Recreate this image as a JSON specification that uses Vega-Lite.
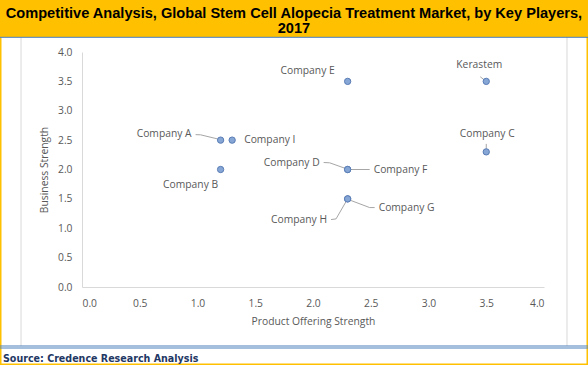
{
  "$schema": "https://vega.github.io/schema/vega-lite/v6.json",
  "width": 462,
  "height": 235,
  "autosize": {"type": "none"},
  "padding": {"left": 82, "top": 52, "right": 44, "bottom": 78},
  "background": "#FFFFFF",
  "config": {
    "view": {"stroke": null},
    "axis": {
      "labelFont": "Open Sans", "labelFontSize": 10.3, "labelColor": "#595959",
      "titleFont": "Open Sans", "titleFontSize": 10.3, "titleFontWeight": "normal", "titleColor": "#595959",
      "ticks": false, "domainColor": "#D9D9D9", "gridColor": "#D9D9D9", "domainWidth": 1, "gridWidth": 1,
      "labelOverlap": false
    },
    "axisX": {"labelPadding": 11, "titlePadding": 8},
    "axisY": {"labelPadding": 10, "titlePadding": 8},
    "text": {"font": "Open Sans", "fontSize": 10.3, "color": "#595959"}
  },
  "datasets": {
    "players": [
      {"company": "Company A", "product_offering_strength": 1.2, "business_strength": 2.5},
      {"company": "Company I", "product_offering_strength": 1.3, "business_strength": 2.5},
      {"company": "Company B", "product_offering_strength": 1.2, "business_strength": 2.0},
      {"company": "Company E", "product_offering_strength": 2.3, "business_strength": 3.5},
      {"company": "Kerastem", "product_offering_strength": 3.5, "business_strength": 3.5},
      {"company": "Company C", "product_offering_strength": 3.5, "business_strength": 2.3},
      {"company": "Company D", "product_offering_strength": 2.3, "business_strength": 2.0},
      {"company": "Company F", "product_offering_strength": 2.3, "business_strength": 2.0},
      {"company": "Company G", "product_offering_strength": 2.3, "business_strength": 1.5},
      {"company": "Company H", "product_offering_strength": 2.3, "business_strength": 1.5}
    ],
    "frame": [{}]
  },
  "data": {"name": "players"},
  "layer": [
    {
      "data": {"name": "frame"},
      "mark": {"type": "rect", "fill": "#FFC000"},
      "encoding": {
        "x": {"datum": -0.72, "title": "Product Offering Strength", "axis": {"values": [0, 0.5, 1, 1.5, 2, 2.5, 3, 3.5, 4], "format": ".1f"}},
        "x2": {"datum": 4.39},
        "y": {"datum": 4.255, "title": "Business Strength", "axis": {"values": [0, 0.5, 1, 1.5, 2, 2.5, 3, 3.5, 4], "format": ".1f"}},
        "y2": {"datum": 5.0}}
    },
    {
      "data": {"name": "frame"},
      "mark": {"type": "rect", "fill": null, "filled": false, "stroke": "#FFC000", "strokeWidth": 3},
      "encoding": {
        "x": {"datum": -0.71, "title": "Product Offering Strength", "axis": {"values": [0, 0.5, 1, 1.5, 2, 2.5, 3, 3.5, 4], "format": ".1f"}},
        "x2": {"datum": 4.381},
        "y": {"datum": 4.885, "title": "Business Strength", "axis": {"values": [0, 0.5, 1, 1.5, 2, 2.5, 3, 3.5, 4], "format": ".1f"}},
        "y2": {"datum": -1.328}}
    },
    {
      "data": {"name": "frame"},
      "mark": {"type": "rule", "color": "#D9D9D9", "strokeWidth": 1},
      "encoding": {
        "x": {"datum": -0.528, "title": "Product Offering Strength", "axis": {"values": [0, 0.5, 1, 1.5, 2, 2.5, 3, 3.5, 4], "format": ".1f"}},
        "y": {"datum": 4.255, "title": "Business Strength", "axis": {"values": [0, 0.5, 1, 1.5, 2, 2.5, 3, 3.5, 4], "format": ".1f"}},
        "y2": {"datum": -1.004}}
    },
    {
      "data": {"name": "frame"},
      "mark": {"type": "rule", "color": "#D9D9D9", "strokeWidth": 1},
      "encoding": {
        "x": {"datum": 4.199, "title": "Product Offering Strength", "axis": {"values": [0, 0.5, 1, 1.5, 2, 2.5, 3, 3.5, 4], "format": ".1f"}},
        "y": {"datum": 4.255, "title": "Business Strength", "axis": {"values": [0, 0.5, 1, 1.5, 2, 2.5, 3, 3.5, 4], "format": ".1f"}},
        "y2": {"datum": -1.004}}
    },
    {
      "data": {"name": "frame"},
      "mark": {"type": "rule", "color": "#4A7EBB", "strokeWidth": 1},
      "encoding": {
        "y": {"datum": 4.25, "title": "Business Strength", "axis": {"values": [0, 0.5, 1, 1.5, 2, 2.5, 3, 3.5, 4], "format": ".1f"}},
        "x": {"datum": -0.71, "title": "Product Offering Strength", "axis": {"values": [0, 0.5, 1, 1.5, 2, 2.5, 3, 3.5, 4], "format": ".1f"}},
        "x2": {"datum": 4.381}}
    },
    {
      "data": {"name": "frame"},
      "mark": {"type": "rule", "color": "#4A7EBB", "strokeWidth": 1.2},
      "encoding": {
        "y": {"datum": -1.004, "title": "Business Strength", "axis": {"values": [0, 0.5, 1, 1.5, 2, 2.5, 3, 3.5, 4], "format": ".1f"}},
        "x": {"datum": -0.71, "title": "Product Offering Strength", "axis": {"values": [0, 0.5, 1, 1.5, 2, 2.5, 3, 3.5, 4], "format": ".1f"}},
        "x2": {"datum": 4.381}}
    },
    {
      "data": {"name": "frame"},
      "mark": {"type": "rule", "color": "#4A7EBB", "strokeWidth": 1.2},
      "encoding": {
        "y": {"datum": -1.038, "title": "Business Strength", "axis": {"values": [0, 0.5, 1, 1.5, 2, 2.5, 3, 3.5, 4], "format": ".1f"}},
        "x": {"datum": -0.71, "title": "Product Offering Strength", "axis": {"values": [0, 0.5, 1, 1.5, 2, 2.5, 3, 3.5, 4], "format": ".1f"}},
        "x2": {"datum": 4.381}}
    },
    {
      "data": {"name": "frame"},
      "mark": {"type": "text", "font": "Liberation Sans", "fontSize": 14.6, "fontWeight": "bold", "color": "#000000",
               "align": "center", "baseline": "middle",
               "text": "Competitive Analysis, Global Stem Cell Alopecia Treatment Market, by Key Players,"},
      "encoding": {
        "x": {"datum": 1.835, "title": "Product Offering Strength", "axis": {"values": [0, 0.5, 1, 1.5, 2, 2.5, 3, 3.5, 4], "format": ".1f"}},
        "y": {"datum": 4.655, "title": "Business Strength", "axis": {"values": [0, 0.5, 1, 1.5, 2, 2.5, 3, 3.5, 4], "format": ".1f"}}}
    },
    {
      "data": {"name": "frame"},
      "mark": {"type": "text", "font": "Liberation Sans", "fontSize": 14.6, "fontWeight": "bold", "color": "#000000",
               "align": "center", "baseline": "middle", "text": "2017"},
      "encoding": {
        "x": {"datum": 1.835, "title": "Product Offering Strength", "axis": {"values": [0, 0.5, 1, 1.5, 2, 2.5, 3, 3.5, 4], "format": ".1f"}},
        "y": {"datum": 4.383, "title": "Business Strength", "axis": {"values": [0, 0.5, 1, 1.5, 2, 2.5, 3, 3.5, 4], "format": ".1f"}}}
    },
    {
      "data": {"name": "frame"},
      "mark": {"type": "text", "font": "DejaVu Sans Condensed", "fontSize": 10.6, "fontWeight": "bold", "color": "#1F3864",
               "align": "left", "baseline": "middle", "text": "Source: Credence Research Analysis"},
      "encoding": {
        "x": {"datum": -0.684, "title": "Product Offering Strength", "axis": {"values": [0, 0.5, 1, 1.5, 2, 2.5, 3, 3.5, 4], "format": ".1f"}},
        "y": {"datum": -1.225, "title": "Business Strength", "axis": {"values": [0, 0.5, 1, 1.5, 2, 2.5, 3, 3.5, 4], "format": ".1f"}}}
    },
    {
      "encoding": {
        "x": {"field": "product_offering_strength", "type": "quantitative", "title": "Product Offering Strength",
              "scale": {"domain": [0, 4], "nice": false, "zero": false},
              "axis": {"values": [0, 0.5, 1, 1.5, 2, 2.5, 3, 3.5, 4], "format": ".1f"}},
        "y": {"field": "business_strength", "type": "quantitative", "title": "Business Strength",
              "scale": {"domain": [0, 4], "nice": false, "zero": false},
              "axis": {"values": [0, 0.5, 1, 1.5, 2, 2.5, 3, 3.5, 4], "format": ".1f"}}
      },
      "layer": [
        {
          "transform": [{"filter": "datum.company === 'Company A'"}],
          "mark": {"type": "rule", "color": "#A6A6A6", "xOffset": -25, "yOffset": -5.5, "x2Offset": -20, "y2Offset": -5.3},
          "encoding": {"x2": {"field": "product_offering_strength"}, "y2": {"field": "business_strength"}}
        },
        {
          "transform": [{"filter": "datum.company === 'Company A'"}],
          "mark": {"type": "rule", "color": "#A6A6A6", "xOffset": -20, "yOffset": -5.3, "x2Offset": -3, "y2Offset": -1.2},
          "encoding": {"x2": {"field": "product_offering_strength"}, "y2": {"field": "business_strength"}}
        },
        {
          "transform": [{"filter": "datum.company === 'Kerastem'"}],
          "mark": {"type": "rule", "color": "#A6A6A6", "xOffset": -6, "yOffset": -4.6, "x2Offset": -2, "y2Offset": -1.5},
          "encoding": {"x2": {"field": "product_offering_strength"}, "y2": {"field": "business_strength"}}
        },
        {
          "transform": [{"filter": "datum.company === 'Company C'"}],
          "mark": {"type": "rule", "color": "#A6A6A6", "xOffset": 0, "yOffset": -8, "x2Offset": 0, "y2Offset": -3},
          "encoding": {"x2": {"field": "product_offering_strength"}, "y2": {"field": "business_strength"}}
        },
        {
          "transform": [{"filter": "datum.company === 'Company D'"}],
          "mark": {"type": "rule", "color": "#A6A6A6", "xOffset": -24, "yOffset": -7, "x2Offset": -18, "y2Offset": -6.7},
          "encoding": {"x2": {"field": "product_offering_strength"}, "y2": {"field": "business_strength"}}
        },
        {
          "transform": [{"filter": "datum.company === 'Company D'"}],
          "mark": {"type": "rule", "color": "#A6A6A6", "xOffset": -18, "yOffset": -6.7, "x2Offset": -2, "y2Offset": -1},
          "encoding": {"x2": {"field": "product_offering_strength"}, "y2": {"field": "business_strength"}}
        },
        {
          "transform": [{"filter": "datum.company === 'Company F'"}],
          "mark": {"type": "rule", "color": "#A6A6A6", "xOffset": 3, "yOffset": 0, "x2Offset": 22, "y2Offset": 0},
          "encoding": {"x2": {"field": "product_offering_strength"}, "y2": {"field": "business_strength"}}
        },
        {
          "transform": [{"filter": "datum.company === 'Company G'"}],
          "mark": {"type": "rule", "color": "#A6A6A6", "xOffset": 3, "yOffset": 1.5, "x2Offset": 22, "y2Offset": 8.7},
          "encoding": {"x2": {"field": "product_offering_strength"}, "y2": {"field": "business_strength"}}
        },
        {
          "transform": [{"filter": "datum.company === 'Company G'"}],
          "mark": {"type": "rule", "color": "#A6A6A6", "xOffset": 22, "yOffset": 8.7, "x2Offset": 27, "y2Offset": 8.7},
          "encoding": {"x2": {"field": "product_offering_strength"}, "y2": {"field": "business_strength"}}
        },
        {
          "transform": [{"filter": "datum.company === 'Company H'"}],
          "mark": {"type": "rule", "color": "#A6A6A6", "xOffset": -16.6, "yOffset": 20.7, "x2Offset": -11.6, "y2Offset": 20},
          "encoding": {"x2": {"field": "product_offering_strength"}, "y2": {"field": "business_strength"}}
        },
        {
          "transform": [{"filter": "datum.company === 'Company H'"}],
          "mark": {"type": "rule", "color": "#A6A6A6", "xOffset": -11.6, "yOffset": 20, "x2Offset": -1.6, "y2Offset": 2.7},
          "encoding": {"x2": {"field": "product_offering_strength"}, "y2": {"field": "business_strength"}}
        },
        {
          "mark": {"type": "point", "filled": true, "size": 40, "fill": "#86A6D6", "stroke": "#5A7DB5", "strokeWidth": 1, "opacity": 1}
        },
        {
          "transform": [{"filter": "datum.company === 'Company A'"}],
          "mark": {"type": "text", "align": "right", "baseline": "middle", "dx": -29, "dy": -6},
          "encoding": {"text": {"field": "company"}}
        },
        {
          "transform": [{"filter": "datum.company === 'Company I'"}],
          "mark": {"type": "text", "align": "left", "baseline": "middle", "dx": 12, "dy": 0},
          "encoding": {"text": {"field": "company"}}
        },
        {
          "transform": [{"filter": "datum.company === 'Company B'"}],
          "mark": {"type": "text", "align": "center", "baseline": "middle", "dx": -30, "dy": 15},
          "encoding": {"text": {"field": "company"}}
        },
        {
          "transform": [{"filter": "datum.company === 'Company E'"}],
          "mark": {"type": "text", "align": "center", "baseline": "middle", "dx": -40, "dy": -10},
          "encoding": {"text": {"field": "company"}}
        },
        {
          "transform": [{"filter": "datum.company === 'Kerastem'"}],
          "mark": {"type": "text", "align": "center", "baseline": "middle", "dx": -7, "dy": -16.5},
          "encoding": {"text": {"field": "company"}}
        },
        {
          "transform": [{"filter": "datum.company === 'Company C'"}],
          "mark": {"type": "text", "align": "center", "baseline": "middle", "dx": 1, "dy": -18},
          "encoding": {"text": {"field": "company"}}
        },
        {
          "transform": [{"filter": "datum.company === 'Company D'"}],
          "mark": {"type": "text", "align": "right", "baseline": "middle", "dx": -28, "dy": -7},
          "encoding": {"text": {"field": "company"}}
        },
        {
          "transform": [{"filter": "datum.company === 'Company F'"}],
          "mark": {"type": "text", "align": "left", "baseline": "middle", "dx": 26, "dy": 0},
          "encoding": {"text": {"field": "company"}}
        },
        {
          "transform": [{"filter": "datum.company === 'Company G'"}],
          "mark": {"type": "text", "align": "left", "baseline": "middle", "dx": 31, "dy": 9.3},
          "encoding": {"text": {"field": "company"}}
        },
        {
          "transform": [{"filter": "datum.company === 'Company H'"}],
          "mark": {"type": "text", "align": "right", "baseline": "middle", "dx": -20.6, "dy": 20.7},
          "encoding": {"text": {"field": "company"}}
        }
      ]
    }
  ]
}
